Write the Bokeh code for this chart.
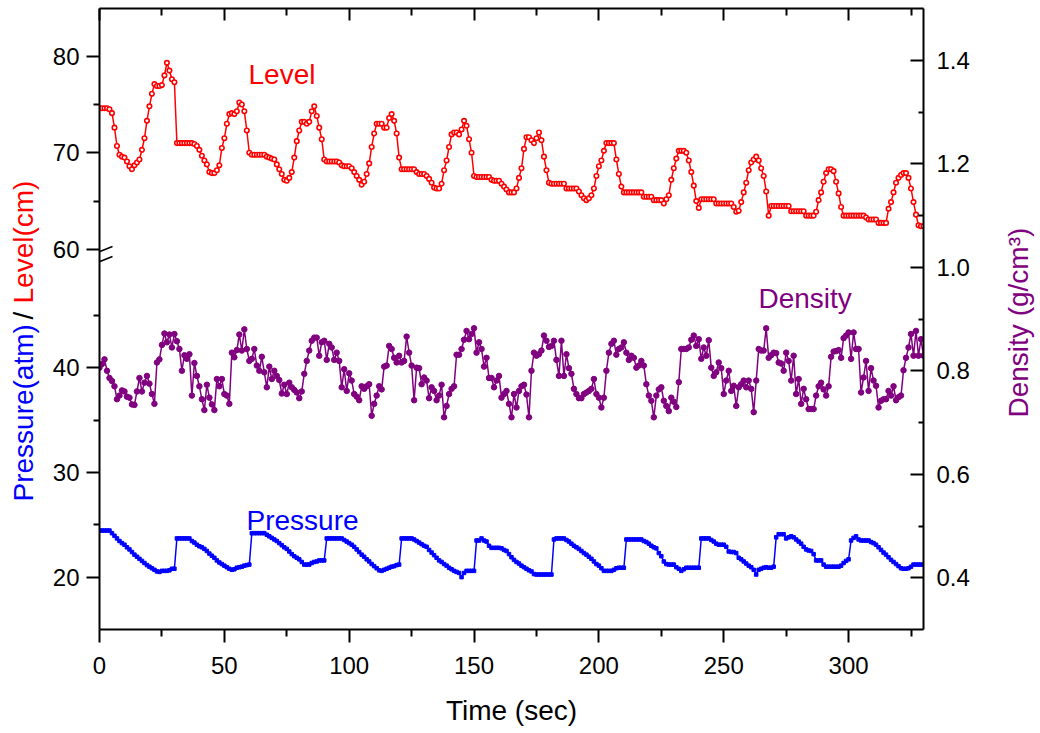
import math
from bokeh.plotting import figure
from bokeh.layouts import row
from bokeh.models import Range1d, LinearAxis, FixedTicker, Label, Arrow
from bokeh.embed import file_html
from bokeh.resources import INLINE

# ---------------- data ----------------
time_s = list(range(331))

level_cm = [
    74.6, 74.6, 74.6, 74.6, 74.5, 74.1, 72.6, 70.7, 69.8, 69.6,
    69.5, 69.1, 68.6, 68.3, 68.7, 69.0, 69.3, 70.3, 71.5, 73.3,
    74.8, 76.1, 77.1, 76.9, 76.9, 77.0, 78.0, 79.3, 78.5, 77.6,
    77.3, 71.0, 71.0, 71.0, 71.0, 71.0, 71.0, 71.0, 70.9, 70.7,
    70.3, 69.7, 69.2, 68.8, 68.0, 67.9, 67.9, 68.2, 68.7, 70.5,
    71.5, 73.0, 74.0, 74.1, 74.0, 74.3, 75.2, 75.0, 74.3, 72.3,
    70.0, 69.8, 69.8, 69.8, 69.8, 69.8, 69.8, 69.6, 69.5, 69.4,
    69.3, 68.8, 68.3, 67.8, 67.2, 67.1, 67.4, 68.0, 69.5, 71.2,
    72.3, 73.2, 73.2, 73.0, 73.2, 74.3, 74.8, 73.8, 72.6, 71.4,
    69.3, 69.1, 69.1, 69.1, 69.1, 69.1, 69.0, 68.7, 68.6, 68.6,
    68.6, 68.4, 68.0, 67.6, 67.2, 66.7, 67.0, 67.8, 68.9, 70.6,
    72.0, 73.0, 73.0, 73.0, 72.6, 72.6, 73.6, 74.0, 73.3, 72.0,
    69.5, 68.3, 68.3, 68.3, 68.3, 68.3, 68.3, 68.0, 67.8, 67.8,
    67.8, 67.6, 67.3, 66.9, 66.4, 66.3, 66.3, 66.8, 68.2, 69.2,
    70.6, 71.9, 72.1, 72.1, 71.9, 72.4, 73.3, 72.8, 71.4, 70.0,
    67.6, 67.5, 67.5, 67.5, 67.5, 67.5, 67.5, 67.2, 67.1, 67.1,
    67.1, 66.8, 66.5, 66.2, 65.9, 65.9, 65.9, 66.3, 67.4, 68.4,
    70.4, 71.6, 71.6, 71.3, 71.0, 71.5, 72.1, 71.3, 69.6, 68.2,
    66.9, 66.8, 66.8, 66.8, 66.8, 66.8, 66.8, 66.3, 66.3, 66.3,
    66.3, 66.3, 66.0, 65.6, 65.3, 65.1, 65.3, 65.6, 66.3, 67.6,
    68.6, 69.2, 70.2, 71.0, 71.0, 71.0, 71.0, 69.3, 67.8, 66.5,
    65.9, 65.9, 65.9, 65.9, 65.9, 65.9, 65.9, 65.9, 65.45, 65.45,
    65.45, 65.45, 65.1, 65.1, 65.1, 65.1, 64.75, 65.2, 65.6, 67.2,
    68.4, 69.4, 70.2, 70.2, 70.2, 70.0, 69.2, 68.0, 66.6, 65.0,
    64.3, 65.2, 65.2, 65.2, 65.2, 65.2, 65.2, 64.75, 64.75, 64.75,
    64.75, 64.75, 64.75, 64.75, 64.4, 63.9, 64.0, 64.9, 65.9, 66.9,
    68.2, 69.0, 69.3, 69.6, 69.2, 68.4, 67.6, 66.0, 63.5, 64.5,
    64.5, 64.5, 64.5, 64.5, 64.5, 64.5, 64.5, 63.95, 63.95, 63.95,
    63.95, 63.95, 63.95, 63.5, 63.5, 63.5, 63.5, 63.9, 65.1, 65.9,
    67.0, 67.9, 68.3, 68.3, 68.1, 67.0, 65.8, 64.4, 63.5, 63.5,
    63.5, 63.5, 63.5, 63.5, 63.5, 63.5, 63.5, 63.3, 63.1, 63.1,
    63.1, 63.1, 62.75, 62.75, 62.75, 62.75, 64.2, 64.9, 65.9, 66.9,
    67.4, 67.7, 67.9, 67.9, 67.4, 66.3, 64.9, 63.6, 62.5, 62.4,
    62.4,
]

pressure_atm = [
    24.45, 24.45, 24.45, 24.45, 24.45, 24.2, 23.95, 23.7, 23.45, 23.25,
    23.1, 22.85, 22.65, 22.4, 22.15, 21.95, 21.75, 21.55, 21.35, 21.15,
    21.0, 20.85, 20.7, 20.55, 20.5, 20.6, 20.6, 20.6, 20.65, 20.8,
    20.8, 23.7, 23.7, 23.7, 23.7, 23.7, 23.7, 23.45, 23.3, 23.1,
    22.95, 22.85, 22.7, 22.5, 22.25, 22.05, 21.85, 21.6, 21.4, 21.25,
    21.1, 20.95, 20.8, 20.7, 20.75, 20.9, 20.95, 21.0, 21.1, 21.15,
    21.2, 24.2, 24.2, 24.2, 24.2, 24.2, 24.2, 24.05, 23.9, 23.75,
    23.6, 23.45, 23.25, 23.05, 22.85, 22.7, 22.45, 22.2, 22.0, 21.85,
    21.7, 21.45, 21.2, 21.2, 21.2, 21.35, 21.45, 21.5, 21.6, 21.6,
    21.6, 23.7, 23.7, 23.7, 23.7, 23.7, 23.7, 23.7, 23.55, 23.4,
    23.25, 23.1, 22.9, 22.65, 22.4, 22.15, 21.95, 21.7, 21.5, 21.25,
    21.05, 20.85, 20.65, 20.6, 20.7, 20.8, 20.9, 21.0, 21.05, 21.15,
    21.2, 23.7, 23.7, 23.7, 23.7, 23.7, 23.6, 23.45, 23.3, 23.15,
    23.0, 22.9, 22.6, 22.35, 22.1, 21.85, 21.6, 21.45, 21.25, 21.1,
    20.9, 20.75, 20.6, 20.5, 20.4, 20.0, 20.4, 20.6, 20.6, 20.6,
    20.6, 23.5, 23.5, 23.7, 23.5, 23.4, 23.0, 22.8, 22.8, 22.8,
    22.8, 22.75, 22.6, 22.5, 22.2, 21.9, 21.65, 21.45, 21.3, 21.1,
    20.95, 20.8, 20.65, 20.55, 20.3, 20.25, 20.25, 20.25, 20.25, 20.25,
    20.25, 20.25, 23.6, 23.7, 23.7, 23.7, 23.7, 23.55, 23.4, 23.2,
    23.0, 22.85, 22.7, 22.5, 22.3, 22.15, 21.95, 21.75, 21.5, 21.25,
    21.1, 20.85, 20.6, 20.6, 20.6, 20.6, 20.7, 20.85, 20.9, 20.9,
    20.9, 23.6, 23.6, 23.6, 23.6, 23.6, 23.6, 23.6, 23.45, 23.35,
    23.2, 23.0, 22.85, 22.75, 22.3, 22.0, 21.5, 21.25, 21.2, 21.2,
    21.2, 20.95, 20.8, 20.6, 20.75, 20.9, 20.9, 20.9, 20.9, 20.9,
    20.9, 23.7, 23.7, 23.7, 23.7, 23.55, 23.4, 23.2, 23.1, 23.1,
    23.1, 22.9, 22.45, 22.4, 22.4, 22.3, 21.85, 21.7, 21.5, 21.3,
    21.1, 20.95, 20.7, 20.25, 20.7, 20.8, 20.9, 20.95, 20.9, 20.9,
    21.0, 23.8, 24.1, 24.1, 24.1, 23.7, 23.8, 23.9, 23.8, 23.6,
    23.4, 23.2, 22.9, 22.65, 22.55, 22.5, 22.2, 21.6, 21.6, 21.6,
    21.2, 21.0, 21.0, 21.0, 21.0, 21.0, 21.0, 21.1, 21.35, 21.55,
    21.7, 23.5, 23.75, 23.9, 23.6, 23.5, 23.5, 23.5, 23.5, 23.35,
    23.25, 23.1, 22.85, 22.6, 22.35, 22.15, 21.9, 21.65, 21.45, 21.25,
    21.05, 20.85, 20.8, 20.8, 20.85, 21.0, 21.2, 21.2, 21.2, 21.2,
    21.2,
]

density_gcm3 = [
    0.806, 0.813, 0.822, 0.800, 0.786, 0.780, 0.770, 0.745, 0.752, 0.762,
    0.760, 0.750, 0.748, 0.735, 0.734, 0.760, 0.786, 0.760, 0.777, 0.790,
    0.775, 0.755, 0.736, 0.816, 0.822, 0.850, 0.872, 0.855, 0.870, 0.845,
    0.871, 0.857, 0.842, 0.800, 0.830, 0.823, 0.832, 0.752, 0.815, 0.790,
    0.770, 0.745, 0.724, 0.773, 0.748, 0.735, 0.724, 0.784, 0.770, 0.784,
    0.755, 0.752, 0.736, 0.835, 0.826, 0.840, 0.870, 0.839, 0.880, 0.842,
    0.819, 0.823, 0.842, 0.810, 0.800, 0.827, 0.797, 0.768, 0.808, 0.784,
    0.800, 0.790, 0.782, 0.756, 0.773, 0.755, 0.777, 0.768, 0.763, 0.758,
    0.747, 0.760, 0.794, 0.819, 0.839, 0.858, 0.864, 0.864, 0.829, 0.855,
    0.858, 0.821, 0.852, 0.845, 0.821, 0.835, 0.819, 0.768, 0.803, 0.761,
    0.795, 0.781, 0.755, 0.750, 0.743, 0.770, 0.765, 0.770, 0.774, 0.713,
    0.736, 0.752, 0.770, 0.764, 0.808, 0.810, 0.848, 0.842, 0.825, 0.816,
    0.829, 0.816, 0.819, 0.866, 0.835, 0.810, 0.743, 0.806, 0.805, 0.774,
    0.787, 0.781, 0.747, 0.768, 0.761, 0.743, 0.752, 0.773, 0.710, 0.732,
    0.755, 0.765, 0.770, 0.831, 0.831, 0.842, 0.860, 0.877, 0.861, 0.871,
    0.882, 0.835, 0.855, 0.842, 0.808, 0.825, 0.786, 0.786, 0.768, 0.781,
    0.790, 0.748, 0.755, 0.761, 0.736, 0.710, 0.755, 0.729, 0.761, 0.770,
    0.773, 0.754, 0.710, 0.800, 0.835, 0.829, 0.832, 0.839, 0.868, 0.858,
    0.846, 0.848, 0.858, 0.821, 0.790, 0.858, 0.790, 0.832, 0.805, 0.794,
    0.765, 0.755, 0.747, 0.747, 0.755, 0.758, 0.761, 0.765, 0.784, 0.755,
    0.748, 0.729, 0.748, 0.800, 0.835, 0.852, 0.858, 0.831, 0.842, 0.845,
    0.855, 0.835, 0.821, 0.829, 0.825, 0.806, 0.810, 0.819, 0.810, 0.774,
    0.752, 0.742, 0.710, 0.752, 0.764, 0.768, 0.742, 0.732, 0.722, 0.748,
    0.740, 0.730, 0.778, 0.842, 0.842, 0.842, 0.845, 0.860, 0.868, 0.848,
    0.861, 0.823, 0.845, 0.829, 0.859, 0.806, 0.790, 0.797, 0.816, 0.805,
    0.755, 0.781, 0.800, 0.761, 0.771, 0.732, 0.768, 0.774, 0.781, 0.768,
    0.781, 0.765, 0.720, 0.781, 0.842, 0.839, 0.839, 0.882, 0.825, 0.830,
    0.835, 0.834, 0.816, 0.814, 0.800, 0.835, 0.819, 0.781, 0.829, 0.755,
    0.784, 0.736, 0.765, 0.745, 0.726, 0.726, 0.726, 0.752, 0.770, 0.777,
    0.764, 0.752, 0.770, 0.827, 0.837, 0.838, 0.840, 0.825, 0.863, 0.868,
    0.874, 0.823, 0.874, 0.842, 0.842, 0.758, 0.787, 0.819, 0.761, 0.805,
    0.781, 0.771, 0.729, 0.742, 0.745, 0.745, 0.761, 0.752, 0.770, 0.743,
    0.749, 0.752, 0.801, 0.825, 0.845, 0.871, 0.829, 0.877, 0.829, 0.861,
    0.829,
]

x_ticks = [0, 50, 100, 150, 200, 250, 300]
x_minor_ticks = [25, 75, 125, 175, 225, 275, 325]
pressure_ticks = [20, 30, 40]
pressure_minor_ticks = [25, 35, 45]
level_ticks = [60, 70, 80]
level_minor_ticks = [65, 75]
density_ticks = [0.4, 0.6, 0.8, 1.0, 1.2, 1.4]
density_minor_ticks = [0.5, 0.7, 0.9, 1.1, 1.3]

# ---------------- layout geometry ----------------
T0, T1 = 0, 330
P0, P1 = 15.0, 74.31
L0, L1 = 20.70, 84.92
D0, D1 = 0.3, 1.5

FONT = "Liberation Sans"
RED, BLUE, PURPLE = "#FF0000", "#0000FF", "#800080"

ORG = 1                 # page offset of the canvas
H = 729
WL, WR = 47, 62
BL, BR, BT, BB = 52, 50, 8, 100
FW, FH = 824, 621
WM = BL + FW + BR
FL = ORG + WL + BL      # frame left on page (100)
FT = ORG + BT           # frame top on page (9)
FB = FT + FH            # frame bottom on page (630)


def dx(px):
    return T0 + (px - FL) / FW * (T1 - T0)


def dy(py):
    return P0 + (FB - py) / FH * (P1 - P0)


def level_to_p(v):
    return round(P0 + (v - L0) / (L1 - L0) * (P1 - P0), 4)


def no_align(f):
    try:
        f.frame_align = False
    except Exception:
        pass


p = figure(width=WM, height=H, output_backend="svg", toolbar_location=None,
           x_range=Range1d(T0, T1), y_range=Range1d(P0, P1),
           x_axis_location=None, y_axis_location=None,
           min_border_left=BL, min_border_right=BR, min_border_top=BT, min_border_bottom=BB)
p.extra_y_ranges = {"level": Range1d(L0, L1), "density": Range1d(D0, D1)}
p.outline_line_color = None
p.grid.visible = False
no_align(p)


def style(ax):
    ax.axis_line_width = 2
    ax.axis_line_color = "black"
    ax.major_tick_line_width = 2
    ax.minor_tick_line_width = 2
    ax.major_label_text_font = FONT
    ax.major_label_text_font_size = "24px"
    ax.major_label_text_color = "black"
    ax.axis_label_text_font = FONT
    ax.axis_label_text_font_style = "normal"
    ax.axis_label_text_font_size = "28px"
    ax.axis_label_text_color = "black"


# bottom axis
xb = LinearAxis(ticker=FixedTicker(ticks=x_ticks, minor_ticks=x_minor_ticks),
                axis_label="Time (sec)")
style(xb)
xb.major_tick_in, xb.major_tick_out = 0, 13
xb.minor_tick_in, xb.minor_tick_out = 0, 7
xb.major_label_standoff = 14
xb.axis_label_standoff = 18
p.add_layout(xb, "below")

# top axis (ticks only)
xt = LinearAxis(ticker=FixedTicker(ticks=x_ticks, minor_ticks=x_minor_ticks))
style(xt)
xt.major_tick_in, xt.major_tick_out = 12, 0
xt.minor_tick_in, xt.minor_tick_out = 7, 0
xt.major_label_text_font_size = "0px"
xt.major_label_standoff = 0
xt.major_label_overrides = {v: "" for v in x_ticks}
p.add_layout(xt, "above")

# left axis (pressure + broken level scale)
left_major = pressure_ticks + [level_to_p(v) for v in level_ticks]
left_minor = pressure_minor_ticks + [level_to_p(v) for v in level_minor_ticks]
overrides = {v: str(v) for v in pressure_ticks}
overrides.update({level_to_p(v): str(v) for v in level_ticks})
yl = LinearAxis(ticker=FixedTicker(ticks=left_major, minor_ticks=left_minor))
style(yl)
yl.major_tick_in, yl.major_tick_out = 0, 13
yl.minor_tick_in, yl.minor_tick_out = 0, 6
yl.major_label_standoff = 7
yl.major_label_overrides = overrides
p.add_layout(yl, "left")

# right axis (density)
yr = LinearAxis(y_range_name="density",
                ticker=FixedTicker(ticks=density_ticks, minor_ticks=density_minor_ticks))
style(yr)
yr.major_tick_in, yr.major_tick_out = 13, 0
yr.minor_tick_in, yr.minor_tick_out = 5, 0
yr.major_label_standoff = 13
yr.major_label_overrides = {v: f"{v:.1f}" for v in density_ticks}
p.add_layout(yr, "right")

# ---------------- series ----------------
p.line(time_s, pressure_atm, line_color=BLUE, line_width=1.5)
p.scatter(time_s, pressure_atm, marker="square", size=3.5, fill_color=BLUE, line_color=BLUE)

p.line(time_s, density_gcm3, y_range_name="density", line_color=PURPLE, line_width=1.5)
p.scatter(time_s, density_gcm3, y_range_name="density", marker="circle", size=5.5,
          fill_color=PURPLE, line_color=PURPLE)

p.line(time_s, level_cm, y_range_name="level", line_color=RED, line_width=1.5)
p.scatter(time_s, level_cm, y_range_name="level", marker="circle", size=4.5,
          fill_color="white", line_color=RED, line_width=1.6)


# ---------------- annotations ----------------
def lab(fig, text, x, y, color, size="28px", angle=0.0):
    fig.add_layout(Label(x=x, y=y, text=text, text_color=color,
                         text_font=FONT, text_font_size=size, angle=angle,
                         text_align="left", text_baseline="alphabetic"))


lab(p, "Level", dx(249), dy(75), RED)
lab(p, "Density", dx(759), dy(299), PURPLE)
lab(p, "Pressure", dx(247), dy(521), BLUE)

# axis break marks (the part inside the frame)
p.add_layout(Arrow(x_start=dx(88), y_start=dy(257), x_end=dx(113), y_end=dy(247),
                   end=None, line_color="black", line_width=1.5))
p.add_layout(Arrow(x_start=dx(88), y_start=dy(267), x_end=dx(113), y_end=dy(257),
                   end=None, line_color="black", line_width=1.5))


# ---------------- side title panels ----------------
def side_fig(w):
    f = figure(width=w, height=H, output_backend="svg", toolbar_location=None,
               x_range=Range1d(0, w), y_range=Range1d(0, FH),
               x_axis_location=None, y_axis_location=None,
               min_border_left=0, min_border_right=0, min_border_top=BT, min_border_bottom=BB)
    f.outline_line_color = None
    f.grid.visible = False
    no_align(f)
    return f


left_fig = side_fig(WL)
lx0 = ORG
LX = 24
lab(left_fig, "Pressure(atm)", LX - lx0, FB - 502, BLUE, angle=math.pi / 2)
lab(left_fig, "/", LX - lx0, FB - 320, "black", angle=math.pi / 2)
lab(left_fig, "Level(cm)", LX - lx0, FB - 304, RED, angle=math.pi / 2)

right_fig = side_fig(WR)
rx0 = ORG + WL + WM
lab(right_fig, "Density (g/cm\u00b3)", 1019 - rx0, FB - 418, PURPLE, angle=math.pi / 2)

layout = row(left_fig, p, right_fig)
open("out.html", "w").write(file_html(layout, INLINE))
